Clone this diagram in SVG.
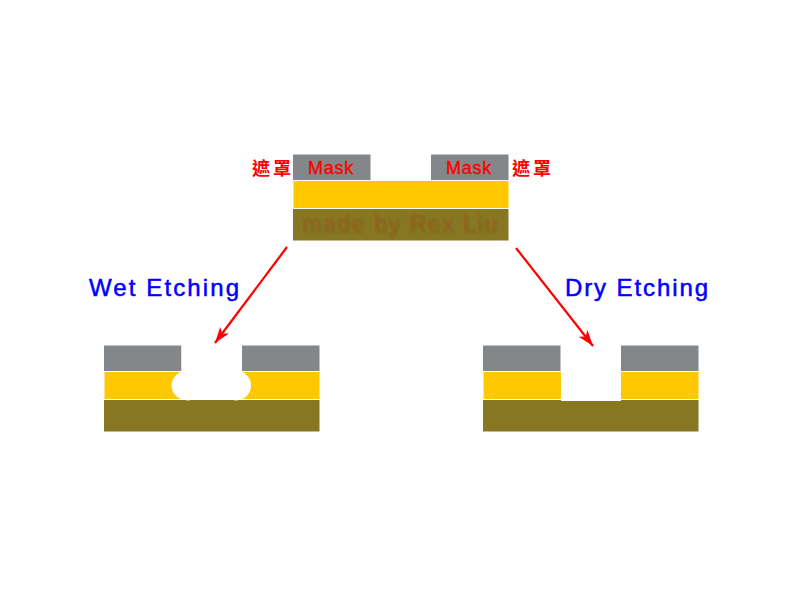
<svg xmlns="http://www.w3.org/2000/svg" width="800" height="600" viewBox="0 0 800 600">
  <style>
    .mask { fill: #84878a; }
    .film { fill: #ffc800; }
    .base { fill: #877622; }
    .hole { fill: #ffffff; }
    .red { fill: #ff0000; stroke: #ff0000; stroke-width: 0.4px; font-family: "Liberation Sans", Arial, sans-serif; font-size: 18px; letter-spacing: 0.75px; }
    .cjk { fill: #ff0000; font-family: "Noto Sans CJK TC", "Noto Sans CJK SC", sans-serif; font-size: 18px; font-weight: 700; letter-spacing: 3px; }
    .blue { fill: #0000ff; stroke: #0000ff; stroke-width: 0.5px; font-family: "Liberation Sans", Arial, sans-serif; font-size: 24px; }
    .sign { fill: #a0561e; fill-opacity: 0.55; font-family: "Liberation Sans", Arial, sans-serif; font-size: 23px; letter-spacing: 1.6px; }
    .arrow { stroke: #ff0000; stroke-width: 2.2; fill: none; marker-end: url(#head); }
  </style>
  <defs>
    <marker id="head" markerUnits="userSpaceOnUse" markerWidth="18" markerHeight="14" refX="16" refY="7" orient="auto">
      <path d="M0 1.500 L16 7 L0 12.500 L4 7 Z" fill="#ff0000"/>
    </marker>
    <filter id="emboss" x="-5%" y="-20%" width="110%" height="150%">
      <feGaussianBlur in="SourceAlpha" stdDeviation="1"/>
      <feOffset dx="1.500" dy="1.500"/>
      <feComponentTransfer result="shade"><feFuncA type="linear" slope="0.22"/></feComponentTransfer>
      <feGaussianBlur in="SourceGraphic" stdDeviation="0.6" result="face"/>
      <feMerge><feMergeNode in="shade"/><feMergeNode in="face"/></feMerge>
    </filter>
  </defs>
  <rect width="800" height="600" fill="#ffffff"/>

  <!-- Starting stack: masked film on a substrate -->
  <g id="start-stack">
    <rect class="mask" x="293" y="154.500" width="77.500" height="25.500"/>
    <rect class="mask" x="431" y="154.500" width="77.500" height="25.500"/>
    <rect class="film" x="293.500" y="181" width="215" height="27"/>
    <rect class="base" x="293" y="209" width="215.500" height="31.500"/>
    <text class="sign" x="301" y="231" filter="url(#emboss)">made by Rex Liu</text>
    <text class="red" x="308" y="174">Mask</text>
    <text class="red" x="446" y="174">Mask</text>
    <text class="cjk" x="252" y="175">遮罩</text>
    <text class="cjk" x="512" y="175">遮罩</text>
  </g>

  <!-- Isotropic result: undercut below the mask -->
  <g id="wet-stack">
    <rect class="mask" x="104" y="345.500" width="77.500" height="25.500"/>
    <rect class="mask" x="242" y="345.500" width="77.500" height="25.500"/>
    <rect class="film" x="104.500" y="372" width="215" height="27"/>
    <rect class="base" x="104" y="400" width="215.500" height="31.500"/>
    <rect class="hole" x="181.500" y="345" width="60.500" height="55"/>
    <ellipse class="hole" cx="188" cy="385.500" rx="16.500" ry="15"/>
    <ellipse class="hole" cx="236" cy="385.500" rx="15" ry="15"/>
  </g>

  <!-- Anisotropic result: straight walled trench -->
  <g id="dry-stack">
    <rect class="mask" x="483" y="345.500" width="77.500" height="25.500"/>
    <rect class="mask" x="621" y="345.500" width="77.500" height="25.500"/>
    <rect class="film" x="483.500" y="372" width="215" height="27"/>
    <rect class="base" x="483" y="400" width="215.500" height="31.500"/>
    <rect class="hole" x="561" y="345" width="60" height="56"/>
  </g>

  <g id="wet-label"><text class="blue" x="89" y="296" textLength="150">Wet Etching</text></g>
  <g id="dry-label"><text class="blue" x="565" y="296" textLength="143">Dry Etching</text></g>

  <g id="connectors">
    <line class="arrow" x1="287" y1="247" x2="215" y2="343"/>
    <line class="arrow" x1="516" y1="248" x2="593" y2="346"/>
  </g>
</svg>
